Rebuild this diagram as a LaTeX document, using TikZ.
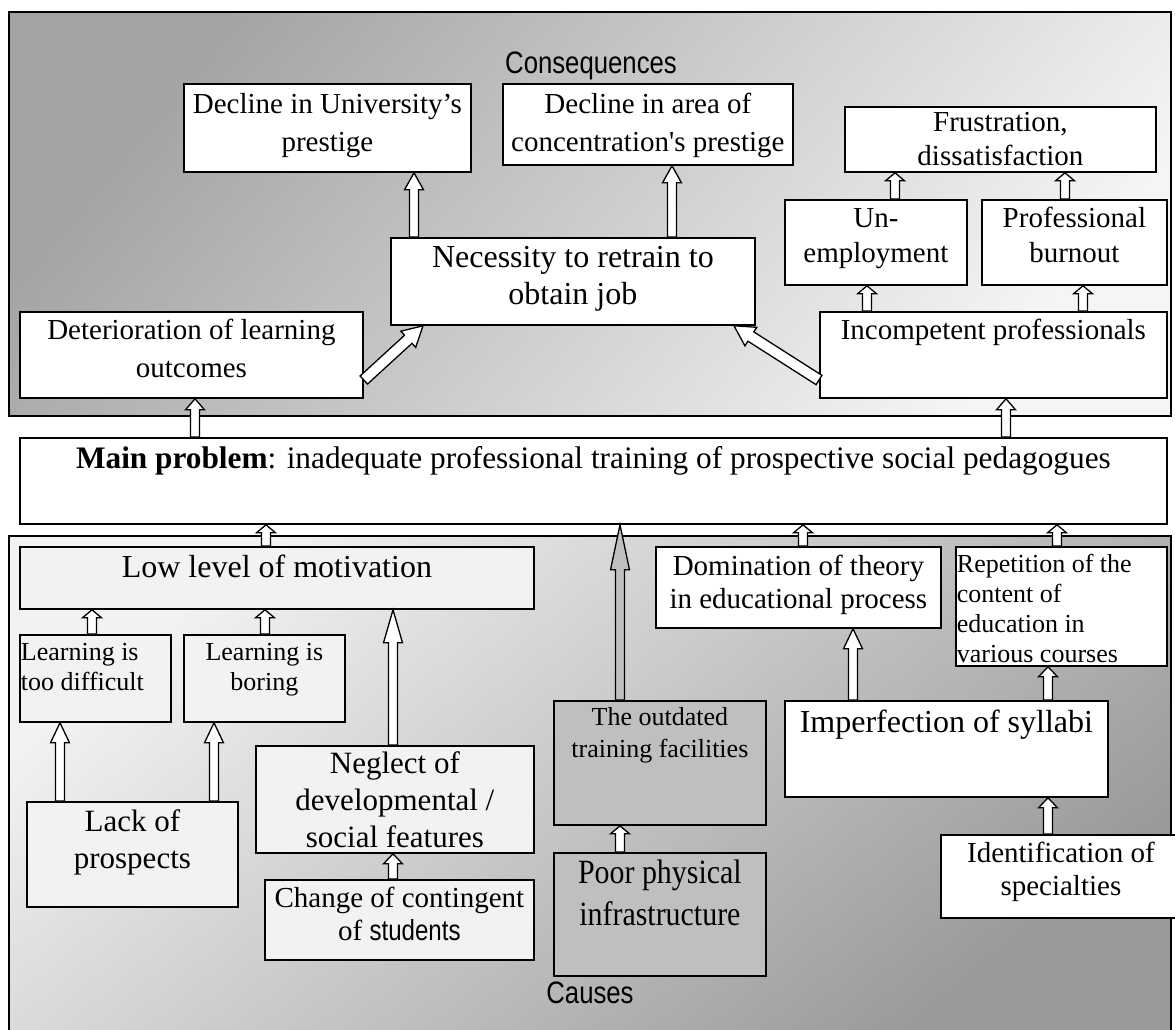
\documentclass[tikz,border=0pt]{standalone}
\usepackage{fontspec}
\setmainfont{Liberation Serif}
\newfontfamily\narrowsans{Liberation Sans}[FakeStretch=0.83]
\usetikzlibrary{calc}

\newcommand{\tiplen}{8pt}
\newcommand{\tiphalf}{9.5pt}
\newcommand{\shafthalf}{4.5pt}

\begin{document}
\begin{tikzpicture}[x=1pt, y=-1pt, font=\fontsize{29}{35}\selectfont]
    \tikzstyle{box} = [rectangle, draw=black, line width=1.8pt, fill=white, inner sep=0pt, anchor=north west]
    \tikzstyle{pale} = [fill=gray!10]
    \tikzstyle{dark} = [fill=gray!50]
    \tikzstyle{frame} = [draw=black, line width=2pt]
    \tikzstyle{lbl} = [anchor=base, inner sep=0pt, font=\fontsize{31}{36}\narrowsans]
    \tikzset{
      fs/.style 2 args={font=\fontsize{#1}{#2}\selectfont},
      wh/.style n args={3}{minimum width=#1pt, minimum height=#2pt,
        execute at begin node={\begin{minipage}[c][#2pt][t]{#1pt}\centering\rule{0pt}{#3pt}},
        execute at end node={\end{minipage}}},
      hl/.code={\def\tiplen{#1pt}},
      wide/.code={\def\shafthalf{5.5pt}\def\tiphalf{11pt}},
      hollow/.style={draw=black, fill=white, line width=1.3pt,
        to path={($(\tikztotarget)!\tiplen!(\tikztostart)$) coordinate (tipbase)
          ($(\tikztostart)!\shafthalf!90:(\tikztotarget)$)
          -- ($(tipbase)!\shafthalf!90:(\tikztotarget)$)
          -- ($(tipbase)!\tiphalf!90:(\tikztotarget)$)
          -- (\tikztotarget)
          -- ($(tipbase)!\tiphalf!-90:(\tikztotarget)$)
          -- ($(tipbase)!\shafthalf!-90:(\tikztotarget)$)
          -- ($(\tikztostart)!\shafthalf!-90:(\tikztotarget)$)
          -- cycle}}
    }
    \useasboundingbox (0,0) rectangle (1175,1030);

    % Frames
    \shadedraw [frame, top color=gray!72, bottom color=gray!8, shading angle=50] (9,12) rectangle (1171,416);
    \shade [top color=gray!10, bottom color=gray!80, shading angle=40] (9,536) rectangle (1171,1040);
    \draw [frame] (9,1040) -- (9,536) -- (1171,536) -- (1171,1040);

    % Consequences
    \node (conslbl) [lbl] at (591,74) {Consequences};
    \node (uni) [box, wh={287}{88}{30}, fs={29}{38}] at (183,83) {Decline in University’s\\prestige};
    \node (area) [box, wh={290}{81}{30}, fs={29}{38}] at (502,83) {Decline in area of\\concentration\textquotesingle s prestige};
    \node (frust) [box, wh={311}{65}{25}, fs={29}{34}] at (844,106) {Frustration,\\dissatisfaction};
    \node (unemp) [box, wh={182}{85}{28}, fs={29}{35}] at (784,199) {Un-\\employment};
    \node (burnout) [box, wh={185}{85}{28}, fs={29}{35}] at (981,199) {Professional\\burnout};
    \node (retrain) [box, wh={364}{87}{30}, fs={32}{37}] at (390,237) {Necessity to retrain to\\obtain job};
    \node (deter) [box, wh={343}{86}{28}, fs={29}{38}] at (19,311) {Deterioration of learning\\outcomes};
    \node (incomp) [box, wh={347}{86}{28}, fs={29}{35}] at (819,311) {Incompetent professionals};

    % Main problem
    \node (main) [box, wh={1147}{86}{31}, fs={31.3}{37}] at (19,437) {\textbf{Main problem}: inadequate professional training of prospective social pedagogues};

    % Causes
    \node (motiv) [box, pale, wh={514}{62}{31}, fs={32}{37}] at (19,546) {Low level of motivation};
    \node (diff) [box, pale, wh={151}{87}{26}, fs={26}{30}] at (19,634) {\raggedright\leftskip=1pt Learning is\\too difficult\par};
    \node (boring) [box, pale, wh={161}{87}{26}, fs={26}{30}] at (183,634) {Learning is\\boring};
    \node (prospects) [box, pale, wh={211}{105}{30}, fs={31}{37}] at (26,801) {Lack of\\prospects};
    \node (neglect) [box, pale, wh={278}{107}{28}, fs={31}{37}] at (255,745) {Neglect of\\developmental /\\social features};
    \node (change) [box, pale, wh={269}{80}{28}, fs={29}{33}] at (264,879) {Change of contingent\\of {\narrowsans students}};
    \node (outdated) [box, dark, wh={212}{124}{25}, fs={26}{32}] at (553,700) {The outdated\\training facilities};
    \node (poor) [box, dark, wh={212}{123}{31}, fs={34}{42}] at (553,852) {\addfontfeature{FakeStretch=0.88}Poor physical\\infrastructure};
    \node (dom) [box, wh={285}{81}{29}, fs={29}{33}] at (655,546) {Domination of theory\\in educational process};
    \node (rep) [box, wh={211}{119}{26}, fs={26}{30}] at (955,546) {\raggedright\leftskip=1pt Repetition of the\\content of\\education in\\various courses\par};
    \node (syllabi) [box, wh={323}{96}{32}, fs={32}{37}] at (784,700) {Imperfection of syllabi};
    \node (identif) [box, wh={240}{83}{28}, fs={29}{33}] at (940,834) {Identification of\\specialties};
    \node (causlbl) [lbl] at (590,1003) {Causes};

    % Connections (consequences)
    \draw [hollow, hl=17] (retrain.north -| 414,0) to (uni.south -| 414,0);
    \draw [hollow, hl=17] (retrain.north -| 672,0) to (area.south -| 672,0);
    \draw [hollow, wide, hl=20] (deter.east |- 0,380) to (retrain.south -| 423,0);
    \draw [hollow, wide, hl=20] (incomp.west |- 0,380) to (retrain.south -| 734,0);
    \draw [hollow] (unemp.north -| 895,0) to (frust.south -| 895,0);
    \draw [hollow] (burnout.north -| 1065,0) to (frust.south -| 1065,0);
    \draw [hollow] (incomp.north -| 867,0) to (unemp.south -| 867,0);
    \draw [hollow] (incomp.north -| 1083,0) to (burnout.south -| 1083,0);
    \draw [hollow, hl=11] (main.north -| 195,0) to (deter.south -| 195,0);
    \draw [hollow, hl=11] (main.north -| 1006,0) to (incomp.south -| 1006,0);

    % Connections (causes)
    \draw [hollow] (motiv.north -| 266,0) to (main.south -| 266,0);
    \draw [hollow] (dom.north -| 803,0) to (main.south -| 803,0);
    \draw [hollow] (rep.north -| 1057,0) to (main.south -| 1057,0);
    \draw [hollow, hl=45, fill=gray!50] (outdated.north -| 620,0) to (main.south -| 620,0);
    \draw [hollow] (diff.north -| 92,0) to (motiv.south -| 92,0);
    \draw [hollow] (boring.north -| 265,0) to (motiv.south -| 265,0);
    \draw [hollow, hl=33] (neglect.north -| 393,0) to (motiv.south -| 393,0);
    \draw [hollow, hl=20] (prospects.north -| 60,0) to (diff.south -| 60,0);
    \draw [hollow, hl=20] (prospects.north -| 214,0) to (boring.south -| 214,0);
    \draw [hollow, hl=10] (change.north -| 393,0) to (neglect.south -| 393,0);
    \draw [hollow] (poor.north -| 620,0) to (outdated.south -| 620,0);
    \draw [hollow, hl=20] (syllabi.north -| 853,0) to (dom.south -| 853,0);
    \draw [hollow, hl=10] (syllabi.north -| 1048,0) to (rep.south -| 1048,0);
    \draw [hollow, hl=10] (identif.north -| 1048,0) to (syllabi.south -| 1048,0);
\end{tikzpicture}
\end{document}
